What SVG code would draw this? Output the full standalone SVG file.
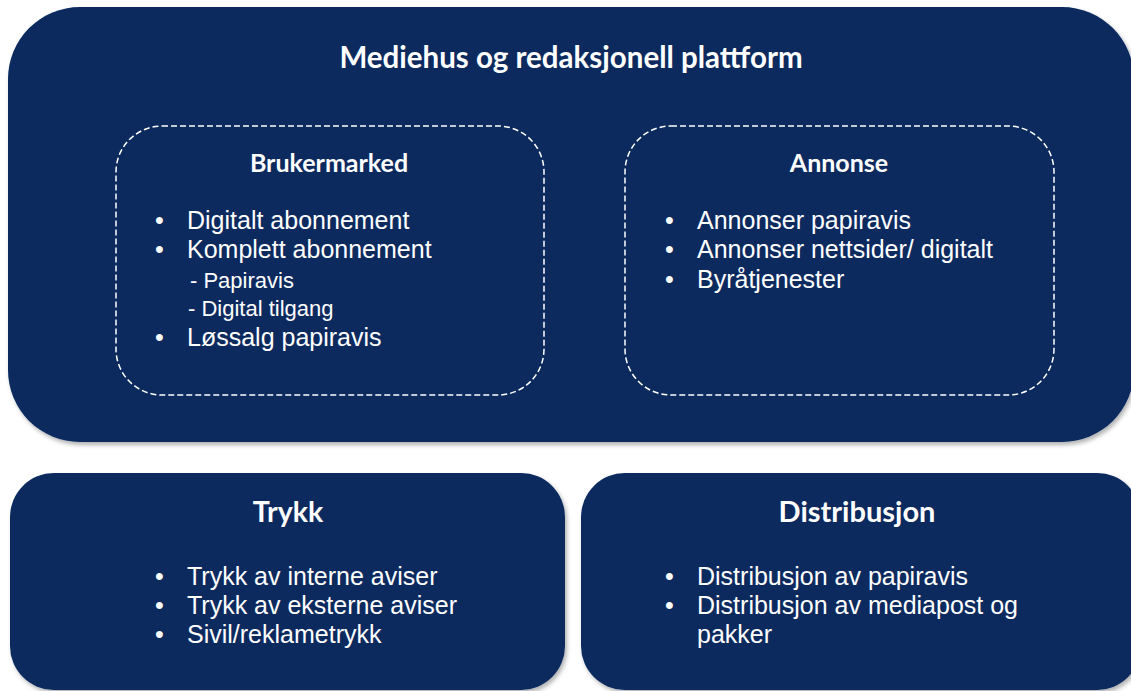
<svg xmlns="http://www.w3.org/2000/svg" width="1131" height="691" viewBox="0 0 1131 691">
  <defs>
    <filter id="shadow" x="-5%" y="-5%" width="110%" height="115%">
      <feDropShadow dx="2" dy="3" stdDeviation="2" flood-color="#000" flood-opacity="0.3"/>
    </filter>
  </defs>
  <style>
    .panel { fill: #08295f; filter: url(#shadow); }
    .group { fill: none; stroke: #ffffff; stroke-width: 1.5; stroke-dasharray: 6 3; }
    .head { font-family: Lato, "Open Sans", sans-serif; font-weight: bold; fill: #ffffff; text-anchor: middle; }
    .item { font-family: "Liberation Sans", Arial, sans-serif; font-size: 25px; fill: #ffffff; }
    .sub { font-family: "Liberation Sans", Arial, sans-serif; font-size: 22px; fill: #ffffff; }
  </style>

  <!-- Media house platform -->
  <g id="mediehus">
    <rect class="panel" x="8" y="7" width="1126" height="435" rx="72" ry="72"/>
    <text class="head" x="571" y="68" font-size="29.5">Mediehus og redaksjonell plattform</text>
  </g>

  <!-- Reader market -->
  <g id="brukermarked">
    <rect class="group" x="116" y="126" width="428" height="269" rx="46" ry="46"/>
    <text class="head" x="329" y="172" font-size="25">Brukermarked</text>
    <text class="item" x="155" y="229">•</text>
    <text class="item" x="187" y="229">Digitalt abonnement</text>
    <text class="item" x="155" y="258">•</text>
    <text class="item" x="187" y="258">Komplett abonnement</text>
    <text class="sub" x="190" y="288">- Papiravis</text>
    <text class="sub" x="188" y="316">- Digital tilgang</text>
    <text class="item" x="155" y="346">•</text>
    <text class="item" x="187" y="346">Løssalg papiravis</text>
  </g>

  <!-- Advertising -->
  <g id="annonse">
    <rect class="group" x="625" y="126" width="429" height="269" rx="46" ry="46"/>
    <text class="head" x="839" y="172" font-size="25">Annonse</text>
    <text class="item" x="665" y="229">•</text>
    <text class="item" x="697" y="229">Annonser papiravis</text>
    <text class="item" x="665" y="258">•</text>
    <text class="item" x="697" y="258">Annonser nettsider/ digitalt</text>
    <text class="item" x="665" y="288">•</text>
    <text class="item" x="697" y="288">Byråtjenester</text>
  </g>

  <!-- Printing -->
  <g id="trykk">
    <rect class="panel" x="10" y="473" width="555" height="217" rx="44" ry="44"/>
    <text class="head" x="288" y="522" font-size="28.5">Trykk</text>
    <text class="item" x="155" y="585">•</text>
    <text class="item" x="187" y="585">Trykk av interne aviser</text>
    <text class="item" x="155" y="614">•</text>
    <text class="item" x="187" y="614">Trykk av eksterne aviser</text>
    <text class="item" x="155" y="643">•</text>
    <text class="item" x="187" y="643">Sivil/reklametrykk</text>
  </g>

  <!-- Distribution -->
  <g id="distribusjon">
    <rect class="panel" x="581" y="473" width="560" height="217" rx="44" ry="44"/>
    <text class="head" x="857" y="522" font-size="29">Distribusjon</text>
    <text class="item" x="665" y="585">•</text>
    <text class="item" x="697" y="585">Distribusjon av papiravis</text>
    <text class="item" x="665" y="614">•</text>
    <text class="item" x="697" y="614">Distribusjon av mediapost og</text>
    <text class="item" x="697" y="643">pakker</text>
  </g>

  <!-- no connectors in this layout -->
  <g id="connectors"/>
</svg>
